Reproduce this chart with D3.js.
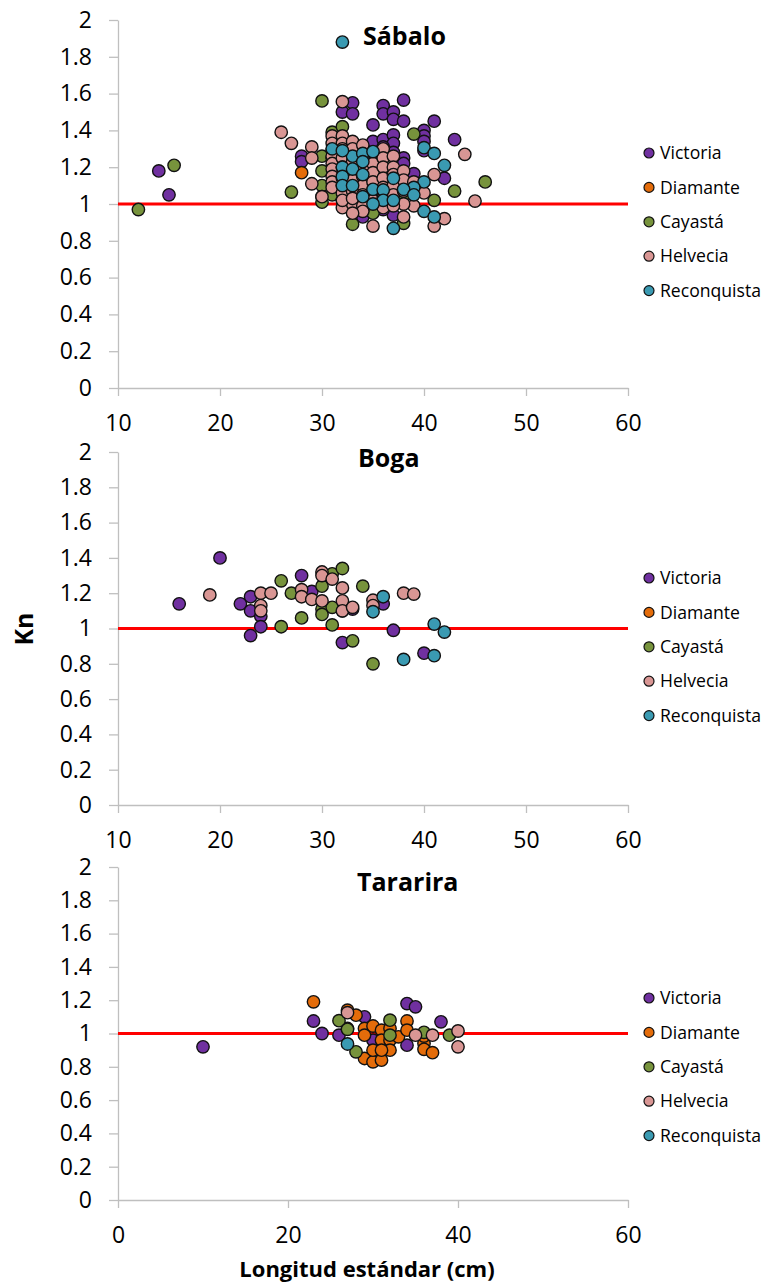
<!DOCTYPE html>
<html>
<head>
<meta charset="utf-8">
<script src="https://cdn.jsdelivr.net/npm/d3@7"></script>
<style>
  html, body { margin: 0; padding: 0; background: #fff; }
  svg { display: block; font-family: "Open Sans", "DejaVu Sans", sans-serif; }
</style>
</head>
<body>
<svg id="chart" width="764" height="1284"></svg>
<script>
// Localidades (series) and their marker colours
const sites = ["Victoria", "Diamante", "Cayastá", "Helvecia", "Reconquista"];
const siteColors = ["#7030A0", "#E46C0A", "#77933C", "#D99694", "#3A9AB2"];

// Sábalo: [longitud estándar (cm), Kn]
const sabaloVictoria = [[14,1.18],[15,1.05],[28,1.26],[28,1.23],[32,1.50],[33,1.55],[33,1.49],[36,1.535],[36,1.49],
  [37,1.50],[37,1.46],[38,1.565],[38,1.45],[35,1.43],[41,1.45],[43,1.35],[40,1.40],[40,1.37],[40,1.34],[40,1.29],
  [42,1.14],[39,1.165],[38,1.25],[38,1.22],[34,0.93],[37,0.94],[36,0.97],[35,1.34],[36,1.35],[37,1.375],[37,1.33],
  [34,1.30],[33,1.32],[37,1.28],[38,1.12],[36,1.31]];
const sabaloDiamante = [[28,1.17],[34,1.02]];
const sabaloCayasta = [[12,0.97],[15.5,1.21],[30,1.56],[31,1.39],[32,1.42],[30,1.26],[30,1.18],[27,1.065],[30,1.10],
  [30,1.04],[30,1.01],[31,1.05],[39,1.38],[46,1.12],[43,1.07],[41,1.02],[38,0.895],[33,0.89],[35,0.95],[31,1.25],
  [32,1.02],[36,1.01],[38,1.05],[34,0.97]];
const sabaloHelvecia = [[26,1.39],[27,1.33],[29,1.31],[29,1.25],[29,1.11],[30,1.04],[32,1.556],[44,1.27],[45,1.016],
  [41,1.16],[42,0.92],[41,0.88],[38,0.93],[39,0.99],[35,0.88],[32,0.98],[33,1.00],
  [31,1.37],[31,1.33],[31,1.29],[31,1.26],[31,1.22],[31,1.19],[31,1.15],[31,1.12],[31,1.09],
  [32,1.37],[32,1.33],[32,1.30],[32,1.25],[32,1.20],[32,1.14],[32,1.10],[32,1.06],[32,1.02],
  [33,1.34],[33,1.30],[33,1.23],[33,1.18],[33,1.13],[33,1.07],[33,1.03],
  [34,1.32],[34,1.25],[34,1.20],[34,1.15],[34,1.10],[34,1.05],[34,0.99],
  [35,1.28],[35,1.22],[35,1.17],[35,1.12],[35,1.07],[35,1.02],
  [36,1.30],[36,1.25],[36,1.20],[36,1.14],[36,1.09],[36,1.03],
  [37,1.26],[37,1.20],[37,1.16],[37,1.10],[37,1.05],
  [38,1.18],[38,1.13],[38,1.07],[38,1.00],[39,1.12],[40,1.06],[36,0.98],[37,0.99],[34,0.96],[33,0.95]];
const sabaloReconquista = [[32,1.88],[40,1.306],[41,1.275],[42,1.21],[40,1.12],[39,1.09],[40,0.96],[41,0.93],[37,0.868],
  [31,1.30],[32,1.20],[32,1.15],[32,1.10],[33,1.26],[33,1.19],[33,1.10],[34,1.275],[34,1.23],[34,1.16],
  [35,1.285],[35,1.08],[36,1.076],[36,1.02],[37,1.14],[37,1.02],[38,1.08],[39,1.05],[35,1.00],[34,1.04],[32,1.29]];

// Boga
const bogaVictoria = [[20,1.40],[16,1.14],[22,1.14],[23,1.18],[23,1.10],[24,1.07],[24,1.01],[23,0.96],[28,1.30],
  [29,1.21],[32,0.92],[33,1.11],[36,1.14],[37,0.99],[40,0.86],[32,1.10]];
const bogaDiamante = [];
const bogaCayasta = [[26,1.27],[27,1.20],[28,1.06],[26,1.01],[30,1.24],[30,1.11],[30,1.08],[31,1.31],[31,1.12],
  [31,1.02],[32,1.34],[34,1.24],[33,0.93],[35,0.80]];
const bogaHelvecia = [[19,1.19],[24,1.20],[25,1.20],[24,1.13],[24,1.10],[28,1.22],[28,1.18],[29,1.165],[30,1.32],
  [30,1.30],[30,1.156],[31,1.28],[32,1.23],[32,1.157],[32,1.10],[33,1.12],[35,1.16],[35,1.13],[38,1.20],[39,1.195]];
const bogaReconquista = [[36,1.18],[35,1.095],[41,1.025],[42,0.98],[38,0.825],[41,0.846]];

// Tararira
const tarariraVictoria = [[10,0.92],[23,1.075],[24,1.00],[26,0.99],[29,1.10],[34,1.18],[35,1.16],[38,1.07],[34,0.93],[30,0.96]];
const tarariraDiamante = [[23,1.19],[27,1.14],[28,1.11],[29,1.03],[29,0.99],[30,1.045],[31,1.02],[31,0.96],[32,1.03],
  [32,0.96],[32,0.90],[33,0.98],[34,1.075],[34,1.02],[36,0.94],[36,0.905],[37,0.885],[29,0.85],[30,0.83],[31,0.84],
  [30,0.90],[31,0.90],[27,1.03],[36,0.985]];
const tarariraCayasta = [[26,1.077],[27,1.025],[28,0.89],[32,1.08],[32,0.99],[36,1.007],[39,0.99]];
const tarariraHelvecia = [[27,1.125],[35,0.99],[37,0.99],[40,1.015],[40,0.92]];
const tarariraReconquista = [[27,0.937]];

// Axis ticks
const yTicks = [0, 0.2, 0.4, 0.6, 0.8, 1, 1.2, 1.4, 1.6, 1.8, 2];
const xTicksAB = [10, 20, 30, 40, 50, 60];
const xTicksC = [0, 20, 40, 60];

// Panel layout
const panels = [
  { title: "Sábalo", titleX: 363, titleY: 45, xDomain: [10, 60], xTicks: xTicksAB, top: 20, bottom: 388, legendTop: 153,
    series: [sabaloVictoria, sabaloDiamante, sabaloCayasta, sabaloHelvecia, sabaloReconquista] },
  { title: "Boga", titleX: 358, titleY: 467, xDomain: [10, 60], xTicks: xTicksAB, top: 452, bottom: 805, legendTop: 578,
    series: [bogaVictoria, bogaDiamante, bogaCayasta, bogaHelvecia, bogaReconquista] },
  { title: "Tararira", titleX: 357, titleY: 891, xDomain: [0, 60], xTicks: xTicksC, top: 867, bottom: 1200, legendTop: 998,
    series: [tarariraVictoria, tarariraDiamante, tarariraCayasta, tarariraHelvecia, tarariraReconquista] }
];

const left = 118, right = 628;
const axisColor = "#BFBFBF";
const svg = d3.select("#chart");

const fmt = d => (d === 0 ? "0" : d3.format("~g")(d));

panels.forEach(p => {
  const x = d3.scaleLinear().domain(p.xDomain).range([left, right]);
  const y = d3.scaleLinear().domain([0, 2]).range([p.bottom, p.top]);
  const g = svg.append("g");

  // Y axis
  const yAxis = g.append("g")
    .attr("transform", `translate(${left},0)`)
    .call(d3.axisLeft(y).tickValues(yTicks).tickSize(9).tickPadding(17).tickFormat(fmt).tickSizeOuter(0));
  // X axis
  const xAxis = g.append("g")
    .attr("transform", `translate(0,${p.bottom})`)
    .call(d3.axisBottom(x).tickValues(p.xTicks).tickSize(8).tickPadding(19).tickFormat(fmt).tickSizeOuter(0));

  [yAxis, xAxis].forEach(a => {
    a.select(".domain").attr("stroke", axisColor).attr("stroke-width", 1.3);
    a.selectAll(".tick line").attr("stroke", axisColor).attr("stroke-width", 1.3);
    a.selectAll(".tick text").attr("fill", "#000").style("font-size", "23px")
      .style("font-family", "'Open Sans', sans-serif");
  });

  // Reference line Kn = 1
  g.append("line")
    .attr("x1", x(p.xDomain[0])).attr("x2", x(60))
    .attr("y1", y(1)).attr("y2", y(1))
    .attr("stroke", "#FF0000").attr("stroke-width", 3.2);

  // Points, one layer per site
  p.series.forEach((pts, i) => {
    g.append("g").selectAll("circle").data(pts).join("circle")
      .attr("cx", d => x(d[0])).attr("cy", d => y(d[1])).attr("r", 6.2)
      .attr("fill", siteColors[i]).attr("stroke", "#111").attr("stroke-width", 1.4);
  });

  // Title
  g.append("text").attr("x", p.titleX).attr("y", p.titleY)
    .attr("font-weight", "bold").attr("font-size", 25).attr("fill", "#000").text(p.title);

  // Legend
  const lg = g.append("g");
  sites.forEach((s, i) => {
    const ly = p.legendTop + i * 34.4;
    lg.append("circle").attr("cx", 649).attr("cy", ly).attr("r", 5)
      .attr("fill", siteColors[i]).attr("stroke", "#111").attr("stroke-width", 1.2);
    lg.append("text").attr("x", 660).attr("y", ly).attr("dy", "0.35em")
      .attr("font-size", 17.6).attr("fill", "#000").text(s);
  });
});

// Axis titles
svg.append("text")
  .attr("transform", "translate(33,629) rotate(-90)")
  .attr("text-anchor", "middle").attr("font-weight", "bold").attr("font-size", 25).attr("fill", "#000")
  .text("Kn");
svg.append("text")
  .attr("x", 367).attr("y", 1277)
  .attr("text-anchor", "middle").attr("font-weight", "bold").attr("font-size", 22).attr("fill", "#000")
  .text("Longitud estándar (cm)");
</script>
</body>
</html>
